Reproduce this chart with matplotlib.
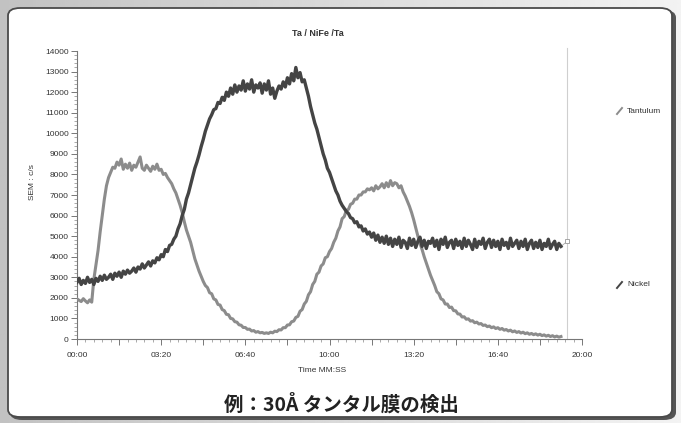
import matplotlib
matplotlib.use("Agg")
import matplotlib.pyplot as plt
from matplotlib.patches import FancyBboxPatch
from matplotlib.lines import Line2D
from matplotlib.ticker import MultipleLocator, FuncFormatter
import numpy as np

plt.rcParams['font.family'] = ['Liberation Sans', 'DejaVu Sans']

# sample times (s), one reading every 5 s
t_sec = list(range(0, 1155, 5))

tantalum = [
    1950, 1880, 1820, 1960, 1850, 1760, 1900, 1790, 2900, 3600,
    4300, 5200, 6000, 6800, 7450, 7850, 8100, 8350, 8300, 8600,
    8450, 8750, 8250, 8500, 8300, 8550, 8200, 8450, 8350, 8600,
    8850, 8300, 8200, 8450, 8300, 8150, 8400, 8250, 8500, 8200,
    8250, 8000, 8050, 7850, 7700, 7550, 7300, 7100, 6800, 6500,
    6150, 5700, 5300, 5000, 4700, 4300, 3900, 3600, 3300, 3050,
    2800, 2600, 2500, 2250, 2200, 1950, 1900, 1680, 1650, 1430,
    1380, 1200, 1180, 1000, 980, 840, 820, 690, 670, 560,
    560, 470, 480, 390, 410, 330, 360, 300, 320, 270,
    300, 270, 330, 300, 380, 360, 450, 440, 550, 550,
    680, 690, 840, 870, 1050, 1100, 1350, 1430, 1700, 1830,
    2150, 2300, 2650, 2800, 3150, 3250, 3550, 3650, 3950, 4000,
    4250, 4400, 4700, 4900, 5250, 5450, 5850, 5950, 6250, 6300,
    6550, 6600, 6800, 6800, 7000, 7000, 7150, 7150, 7300, 7250,
    7350, 7200, 7450, 7300, 7400, 7550, 7350, 7600, 7400, 7700,
    7450, 7600, 7550, 7350, 7450, 7150, 6950, 6700, 6450, 6150,
    5800, 5400, 5000, 4650, 4350, 4000, 3700, 3400, 3100, 2850,
    2600, 2300, 2200, 1950, 1900, 1700, 1700, 1530, 1550, 1380,
    1370, 1220, 1210, 1070, 1080, 960, 980, 870, 890, 790,
    820, 730, 750, 660, 680, 600, 630, 550, 590, 510,
    550, 470, 510, 430, 460, 390, 430, 350, 390, 320,
    360, 290, 330, 260, 300, 230, 270, 210, 250, 190,
    230, 165, 200, 140, 180, 120, 160, 100, 140, 90,
    120,
]

nickel = [
    2750, 2950, 2650, 2850, 2700, 3000, 2750, 2900, 2650, 2950,
    2800, 3050, 2850, 3100, 2900, 3000, 3150, 2900, 3200, 3050,
    3250, 3000, 3300, 3150, 3350, 3200, 3300, 3450, 3250, 3500,
    3400, 3650, 3450, 3600, 3750, 3550, 3800, 3700, 3950, 3850,
    4100, 4000, 4350, 4250, 4550, 4600, 4850, 5000, 5350, 5600,
    6000, 6300, 6800, 7100, 7500, 7900, 8300, 8600, 8950, 9350,
    9700, 10100, 10400, 10700, 10900, 11150, 11200, 11500, 11450, 11750,
    11600, 12000, 11800, 12200, 11900, 12350, 12000, 12300, 12100, 12550,
    12050, 12400, 12150, 12600, 12000, 12350, 12200, 12450, 11950, 12400,
    12100, 12550, 11900, 12200, 11700, 12050, 12300, 12150, 12500, 12250,
    12700, 12400, 12900, 12550, 13200, 12700, 12950, 12500, 12600, 12200,
    11800, 11300, 10900, 10500, 10200, 9800, 9400, 9000, 8700, 8300,
    8100, 7800, 7500, 7200, 7000, 6700, 6500, 6350, 6200, 6100,
    5900, 5850, 5650, 5700, 5450, 5500, 5250, 5350, 5100, 5200,
    4950, 5150, 4800, 5050, 4700, 4950, 4650, 5000, 4600, 4900,
    4500, 4850, 4600, 4950, 4450, 4800, 4700, 4400, 4900, 4550,
    4850, 4450, 4750, 4950, 4500, 4800, 4400, 4750, 4650, 4900,
    4500, 4800, 4350, 4850, 4600, 4950, 4450, 4700, 4800, 4400,
    4850, 4550, 4750, 4400, 4900, 4500, 4800, 4600, 4350, 4850,
    4450, 4750, 4600, 4900, 4400, 4700, 4850, 4450, 4800, 4500,
    4750, 4350, 4850, 4550, 4700, 4400, 4900, 4500, 4650, 4800,
    4400, 4750, 4500, 4850, 4350, 4650, 4800, 4400, 4700, 4450,
    4800, 4350, 4650, 4500, 4850, 4400, 4600, 4750, 4350, 4650,
    4500,
]

cursor_t = 1165
cursor_val = 4750

W, H = 681, 423
fig = plt.figure(figsize=(W / 100, H / 100), dpi=100)

# silver gradient behind the rounded panel
bg = fig.add_axes([0, 0, 1, 1], zorder=-10)
grad = np.linspace(0.76, 0.95, 256)[None, :] * np.ones((64, 1))
bg.imshow(grad, cmap='gray', vmin=0, vmax=1, aspect='auto', extent=[0, 1, 0, 1])
bg.set_xlim(0, 1)
bg.set_ylim(0, 1)
bg.axis('off')

shadow = FancyBboxPatch((10 / W, 3 / H), 666 / W, 410 / H,
                        boxstyle="round,pad=0,rounding_size=0.018",
                        transform=fig.transFigure, facecolor='#555555',
                        edgecolor='none', zorder=-9)
fig.patches.append(shadow)
panel = FancyBboxPatch((8 / W, 6 / H), 664 / W, 409 / H,
                       boxstyle="round,pad=0,rounding_size=0.018",
                       transform=fig.transFigure, facecolor='white',
                       edgecolor='#4a4a4a', linewidth=1.3, zorder=-8)
fig.patches.append(panel)

ax = fig.add_axes([77 / W, 1 - 339 / H, (582 - 77) / W, (339 - 51) / H])
ax.set_facecolor('none')

ax.plot(t_sec, tantalum, color='#8c8c8c', linewidth=2.2, zorder=3)
ax.plot(t_sec, nickel, color='#444444', linewidth=2.4, zorder=4)

ax.axvline(cursor_t, color='#cfcfcf', linewidth=0.8, ymin=0, ymax=1.01, clip_on=False)
ax.plot([t_sec[-1], cursor_t], [nickel[-1], cursor_val], color='#aaaaaa', linewidth=0.6)
ax.plot([cursor_t], [cursor_val], marker='s', markersize=3.5,
        markerfacecolor='white', markeredgecolor='#999999', markeredgewidth=0.6, zorder=5)

ax.set_xlim(0, 1200)
ax.set_ylim(0, 14000)

for s in ['top', 'right']:
    ax.spines[s].set_visible(False)
for s in ['left', 'bottom']:
    ax.spines[s].set_color('#777777')
    ax.spines[s].set_linewidth(0.8)

ax.yaxis.set_major_locator(MultipleLocator(1000))
ax.yaxis.set_minor_locator(MultipleLocator(200))
ax.xaxis.set_major_locator(MultipleLocator(100))
ax.xaxis.set_minor_locator(MultipleLocator(20))


def mmss(v, pos):
    if int(round(v)) % 200:
        return ''
    v = int(round(v))
    return f"{v // 60:02d}:{v % 60:02d}"


ax.xaxis.set_major_formatter(FuncFormatter(mmss))
ax.tick_params(axis='both', which='major', labelsize=6, colors='#777777',
               labelcolor='#333333', length=4, width=0.7, pad=2)
ax.tick_params(axis='x', which='major', pad=5)
ax.tick_params(axis='both', which='minor', colors='#888888', length=2, width=0.5)

fig.text(318 / W, 1 - 33 / H, 'Ta / NiFe /Ta', ha='center', va='center',
         fontsize=6.5, fontweight='bold', color='#333333')
fig.text(32 / W, 1 - 182 / H, 'SEM : c/s', ha='center', va='center',
         rotation=90, fontsize=6, color='#333333')
fig.text(322 / W, 1 - 370 / H, 'Time MM:SS', ha='center', va='center',
         fontsize=6, color='#333333')

# legend entries on the right
for label, col, y in [('Tantulum', '#8c8c8c', 111), ('Nickel', '#444444', 285)]:
    fig.add_artist(Line2D([617 / W, 622 / W], [1 - (y + 3) / H, 1 - (y - 3) / H],
                          transform=fig.transFigure, color=col, linewidth=1.4))
    fig.text(627 / W, 1 - y / H, label, ha='left', va='center',
             fontsize=6, color='#333333')

fig.text(341 / W, 1 - 404 / H, '例：30Å タンタル膜の検出', ha='center', va='center',
         fontsize=14, fontweight='bold', color='#222222',
         family=['Noto Sans CJK JP', 'DejaVu Sans'])

fig.savefig('out.png', dpi=100)
